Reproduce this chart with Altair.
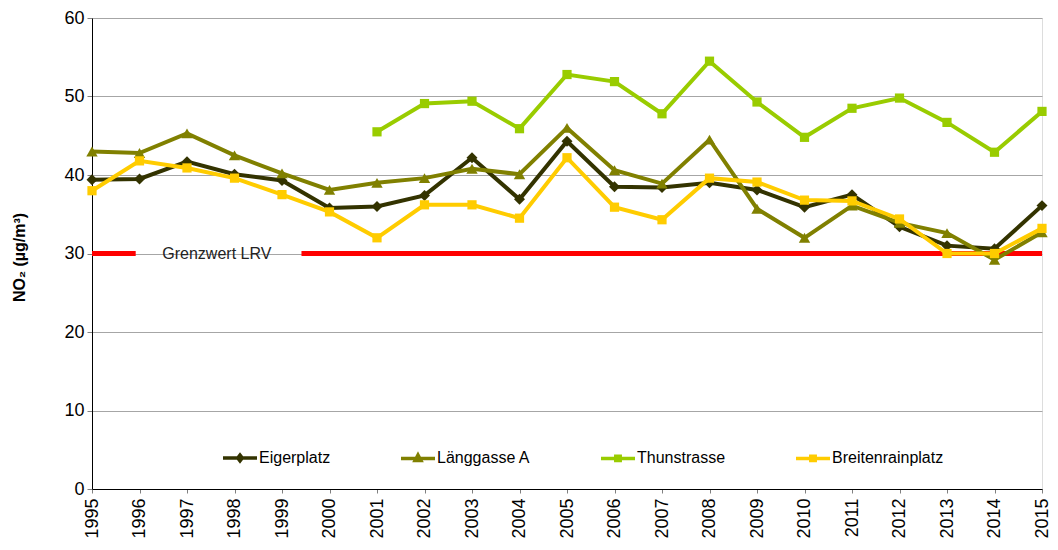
import altair as alt
import pandas as pd

# ---------------- data ----------------
years = list(range(1995, 2016))
series_names = ["Eigerplatz", "Länggasse A", "Thunstrasse", "Breitenrainplatz"]

eigerplatz = [39.4, 39.5, 41.7, 40.1, 39.3, 35.8, 36.0, 37.4, 42.2, 36.9, 44.3,
              38.5, 38.4, 39.0, 38.1, 35.9, 37.5, 33.4, 31.0, 30.6, 36.1]
laenggasse = [43.0, 42.8, 45.3, 42.5, 40.2, 38.1, 39.0, 39.6, 40.8, 40.1, 46.0,
              40.6, 38.9, 44.5, 35.7, 32.0, 36.1, 33.9, 32.6, 29.2, 32.7]
thunstrasse = [None, None, None, None, None, None, 45.5, 49.1, 49.4, 45.9, 52.8,
               51.9, 47.8, 54.5, 49.3, 44.8, 48.5, 49.8, 46.7, 42.9, 48.1]
breitenrain = [38.0, 41.8, 40.9, 39.6, 37.5, 35.3, 32.0, 36.2, 36.2, 34.5, 42.2,
               35.9, 34.3, 39.6, 39.1, 36.8, 36.7, 34.4, 30.0, 30.0, 33.2]

y_ticks = [0, 10, 20, 30, 40, 50, 60]

limit_value = 30
limit_start = [1995, 1999.41]
limit_end = [1995.92, 2015]
limit_label = "Grenzwert LRV"
limit_label_year = 1996.48

colors = ["#333300", "#808000", "#99cc00", "#ffcc00"]
marker_shapes = ["diamond", "triangle-up", "square", "square"]
marker_sizes = [120, 130, 85, 85]
legend_paths = [
    "M-1,0H1M0,-0.17L0.13,0L0,0.17L-0.13,0Z",
    "M-1,0H1M0,-0.2L0.17,0.12L-0.17,0.12Z",
    "M-1,0H1M-0.13,-0.13H0.13V0.13H-0.13Z",
    "M-1,0H1M-0.13,-0.13H0.13V0.13H-0.13Z",
]

rows = []
for name, vals in zip(series_names, [eigerplatz, laenggasse, thunstrasse, breitenrain]):
    for yr, v in zip(years, vals):
        if v is not None:
            rows.append({"year": yr, "value": v, "series": name})
df = pd.DataFrame(rows)

limit_df = pd.DataFrame({"year": limit_start, "year_end": limit_end,
                         "value": [limit_value] * len(limit_start)})
label_df = pd.DataFrame({"year": [limit_label_year], "value": [limit_value],
                         "label": [limit_label]})

FONT = "Liberation Sans"

shape_expr = ""
for name, p in zip(series_names[:-1], legend_paths[:-1]):
    shape_expr += f"datum.value === '{name}' ? '{p}' : "
shape_expr += f"'{legend_paths[-1]}'"

legend = alt.Legend(
    title=None, orient="none", legendX=129, legendY=421,
    direction="horizontal", columns=4, columnPadding=63, rowPadding=0,
    padding=0, labelFontSize=16, labelFont=FONT, labelColor="#000",
    labelOffset=0, symbolSize=1156, symbolStrokeWidth=3.5, symbolOpacity=1,
    symbolType={"expr": shape_expr},
    symbolFillColor={"expr": "scale('color', datum.value)"},
    symbolStrokeColor={"expr": "scale('color', datum.value)"},
)

x_enc = alt.X(
    "year:Q",
    scale=alt.Scale(domain=[1995, 2015], nice=False, zero=False),
    axis=alt.Axis(values=years, format="d", labelAngle=270, labelAlign="right",
                  labelBaseline="middle", labelFontSize=18, labelFont=FONT,
                  labelColor="#000", labelPadding=5, tickSize=4, tickColor="#808080",
                  domainColor="#000", grid=False, title=None, labelOverlap=False,
                  labelFlush=False),
)
y_enc = alt.Y(
    "value:Q",
    scale=alt.Scale(domain=[0, 60], nice=False),
    axis=alt.Axis(values=y_ticks, labelFontSize=18, labelFont=FONT, labelColor="#000",
                  labelPadding=3, tickSize=5, tickColor="#808080", domainColor="#000",
                  grid=True, gridColor="#a6a6a6", title="NO₂ (µg/m³)",
                  titleFont=FONT, titleFontSize=16, titleFontWeight="bold",
                  titleColor="#000", titleX=-73, titleY=239, titleBaseline="middle"),
)
color_enc = alt.Color("series:N",
                      scale=alt.Scale(domain=series_names, range=colors),
                      legend=legend)

limit_rule = alt.Chart(limit_df).mark_rule(color="#ff0000", strokeWidth=5).encode(
    x=x_enc, x2="year_end:Q", y=y_enc)
limit_text = alt.Chart(label_df).mark_text(
    align="left", baseline="middle", fontSize=16, font=FONT, color="#222"
).encode(x=x_enc, y=y_enc, text="label:N")

layers = [limit_rule, limit_text]
base = alt.Chart(df)
for name, shp, sz in zip(series_names, marker_shapes, marker_sizes):
    sub = base.transform_filter(alt.datum.series == name)
    layers.append(sub.mark_line(strokeWidth=4).encode(x=x_enc, y=y_enc, color=color_enc))
    layers.append(sub.mark_point(filled=True, shape=shp, size=sz, opacity=1).encode(
        x=x_enc, y=y_enc, color=color_enc))

chart = alt.layer(*layers).properties(
    width=950, height=471,
    padding={"left": 84, "top": 10, "right": 8, "bottom": 53},
    autosize=alt.AutoSizeParams(type="none"),
).configure_view(stroke="#c0c0c0", strokeWidth=1).configure(background="white")

chart.save("out.html", embed_options={"renderer": "svg", "actions": False})
